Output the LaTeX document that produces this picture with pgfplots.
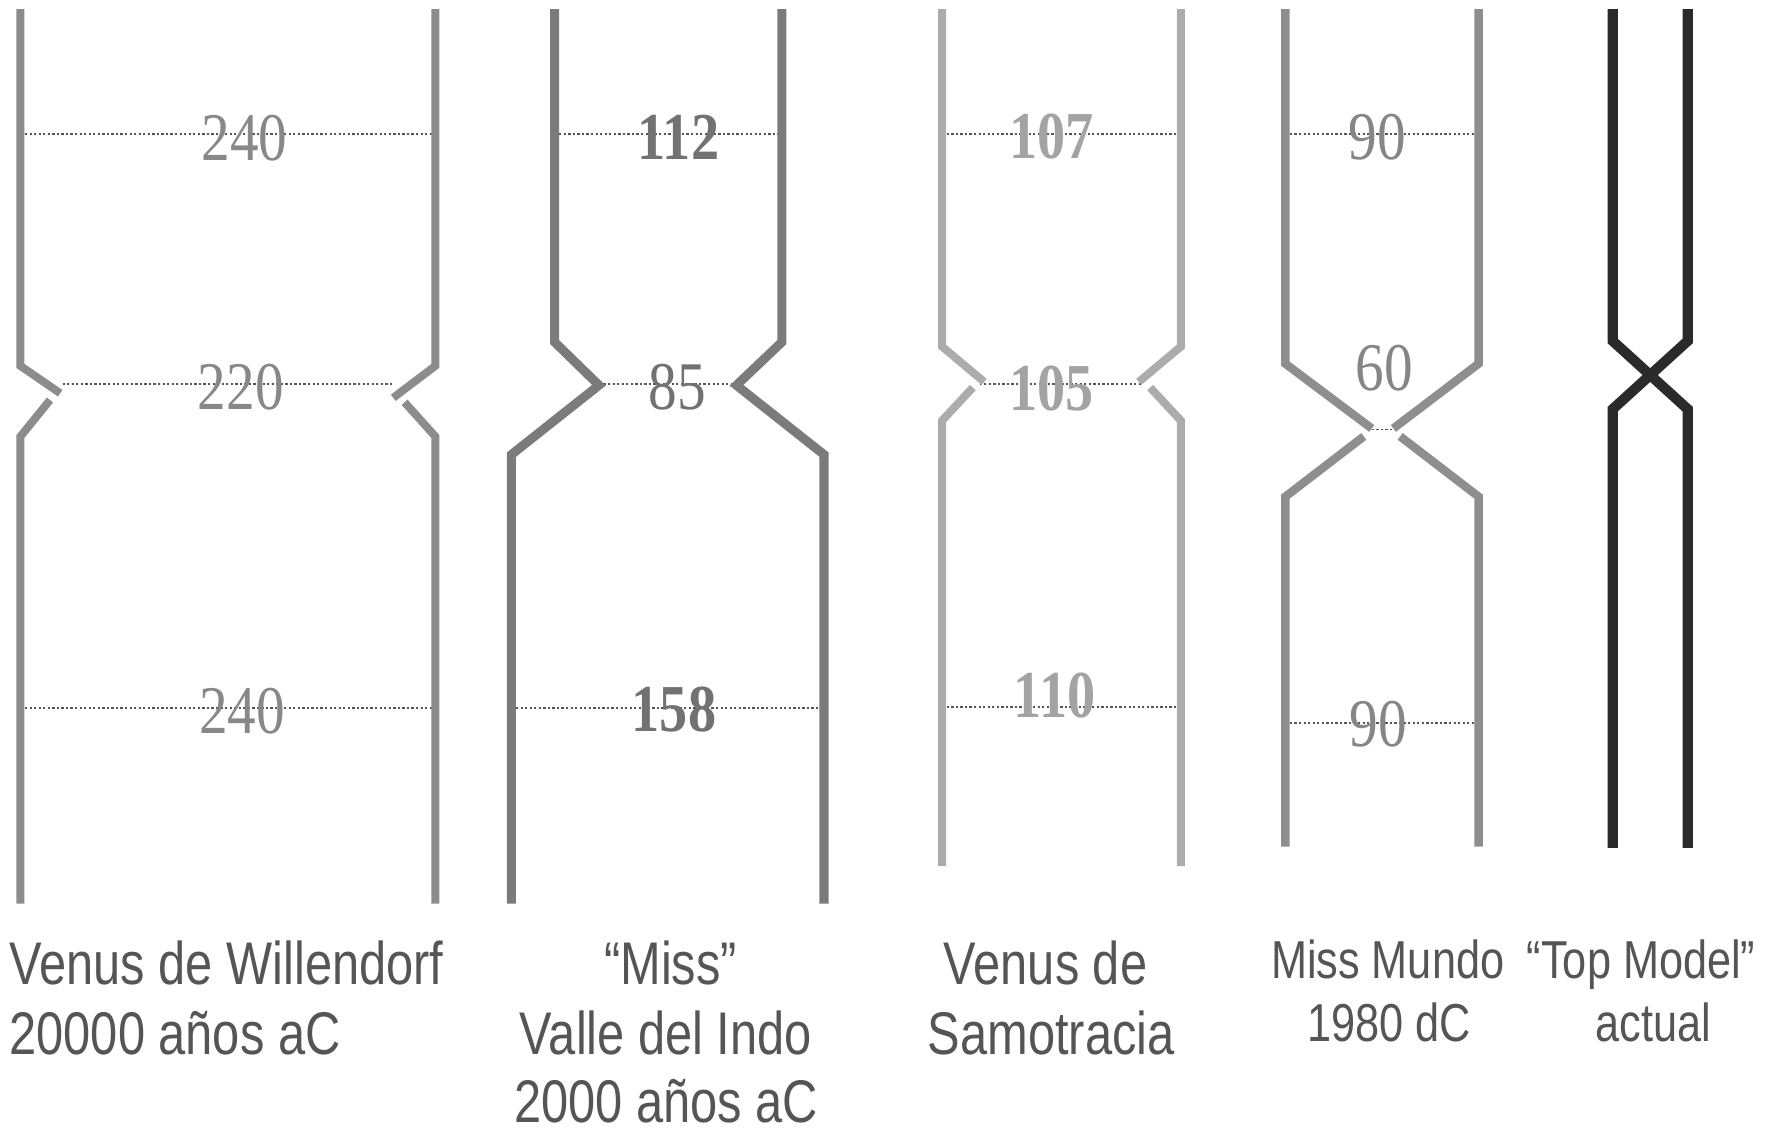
\documentclass[border=0pt]{standalone}
\usepackage{pgfplots}
\pgfplotsset{compat=1.18}
\usepackage{fontspec}
\setmainfont{Liberation Sans}
\newfontfamily\lab[FakeStretch=0.81]{Liberation Sans}
\newfontfamily\num[FakeStretch=0.84]{Liberation Serif}
\definecolor{cA}{HTML}{8C8C8C}
\definecolor{cB}{HTML}{7B7B7B}
\definecolor{cC}{HTML}{ACACAC}
\definecolor{cD}{HTML}{8E8E8E}
\definecolor{cE}{HTML}{2A2A2A}
\definecolor{nA}{HTML}{888888}
\definecolor{nB}{HTML}{727272}
\definecolor{nC}{HTML}{A3A3A3}
\definecolor{nD}{HTML}{868686}
\definecolor{tx}{HTML}{555555}
\definecolor{dt}{HTML}{555555}
\tikzset{
  dl/.style={color=dt, line width=0.75pt, dash pattern=on 1pt off 1pt},
  nr/.style={font=\num\fontsize{30}{30}\selectfont, inner sep=0pt, anchor=center},
  nrb/.style={font=\num\bfseries\fontsize{29.5}{30}\selectfont, inner sep=0pt, anchor=center},
  lb/.style={font=\lab\fontsize{26.5}{31}\selectfont, text=tx, inner sep=0pt, anchor=base},
  ls/.style={font=\lab\fontsize{23.5}{28}\selectfont, text=tx, inner sep=0pt, anchor=base},
}
\begin{document}
\begin{tikzpicture}
\begin{axis}[
  width=784pt, height=498pt, scale only axis,
  xmin=0, xmax=1568, ymin=0, ymax=996, y dir=reverse,
  hide axis, clip=false,
  every axis plot/.append style={no marks},
]
\path[draw=none] (0,0) rectangle (1568,996);
% dotted measurement lines
\addplot[dl] coordinates {(18,118) (383,118)};
\addplot[dl] coordinates {(55,338) (345,338)};
\addplot[dl] coordinates {(18,623) (383,623)};
\addplot[dl] coordinates {(488,118) (688,118)};
\addplot[dl] coordinates {(527,338) (648,338)};
\addplot[dl] coordinates {(450,623) (725,623)};
\addplot[dl] coordinates {(829,118) (1039,118)};
\addplot[dl] coordinates {(862,338) (1005,338)};
\addplot[dl] coordinates {(829,622) (1039,622)};
\addplot[dl] coordinates {(1131,118) (1301,118)};
\addplot[dl] coordinates {(1207,378) (1226,378)};
\addplot[dl] coordinates {(1131,636) (1301,636)};
% Fig 1 Venus de Willendorf
\addplot[cA, line width=3.5pt] coordinates {(18,8) (18,322) (53,346)};
\addplot[cA, line width=3.5pt] coordinates {(44,352) (18,384) (18,795)};
\addplot[cA, line width=3.5pt] coordinates {(383,8) (383,322) (346,350)};
\addplot[cA, line width=3.5pt] coordinates {(356,354) (383,384) (383,795)};
% Fig 2 Valle del Indo
\addplot[cB, line width=4pt] coordinates {(488,8) (488,301) (527,339) (450,400) (450,795)};
\addplot[cB, line width=4pt] coordinates {(688,8) (688,301) (648,339) (725,400) (725,795)};
% Fig 3 Samotracia
\addplot[cC, line width=3.5pt] coordinates {(829,8) (829,305) (866,336)};
\addplot[cC, line width=3.5pt] coordinates {(856,341) (829,370) (829,762)};
\addplot[cC, line width=3.5pt] coordinates {(1039,8) (1039,305) (1002,336)};
\addplot[cC, line width=3.5pt] coordinates {(1012,341) (1039,370) (1039,762)};
% Fig 4 Miss Mundo
\addplot[cD, line width=3.7pt] coordinates {(1131,8) (1131,320) (1207,377)};
\addplot[cD, line width=3.7pt] coordinates {(1200,384) (1131,437) (1131,745)};
\addplot[cD, line width=3.7pt] coordinates {(1301,8) (1301,320) (1226,377)};
\addplot[cD, line width=3.7pt] coordinates {(1232,384) (1301,437) (1301,745)};
% Fig 5 Top Model
\addplot[cE, line width=4.5pt] coordinates {(1419,8) (1419,300) (1485,360) (1485,746)};
\addplot[cE, line width=4.5pt] coordinates {(1485,8) (1485,300) (1419,360) (1419,746)};
% numbers
\node[nr, text=nA] at (215,122) {240};
\node[nr, text=nA] at (212,341) {220};
\node[nr, text=nA] at (213,626) {240};
\node[nrb, text=nB] at (597,121) {112};
\node[nr, text=nB] at (596,341) {85};
\node[nrb, text=nB] at (593,624) {158};
\node[nrb, text=nC] at (925,120) {107};
\node[nrb, text=nC] at (925,342) {105};
\node[nrb, text=nC] at (928,612) {110};
\node[nr, text=nD] at (1212,121) {90};
\node[nr, text=nD] at (1218,324) {60};
\node[nr, text=nD] at (1213,637) {90};
% labels
\node[lb, anchor=base west] at (8,866) {Venus de Willendorf};
\node[lb, anchor=base west] at (8,928) {20000 años aC};
\node[lb] at (590,866) {“Miss”};
\node[lb] at (586,928) {Valle del Indo};
\node[lb] at (586,988) {2000 años aC};
\node[lb] at (920,866) {Venus de};
\node[lb] at (925,928) {Samotracia};
\node[ls] at (1221,861) {Miss Mundo};
\node[ls] at (1222,916) {1980 dC};
\node[ls] at (1444,861) {“Top Model”};
\node[ls] at (1455,916) {actual};
\end{axis}
\end{tikzpicture}
\end{document}
